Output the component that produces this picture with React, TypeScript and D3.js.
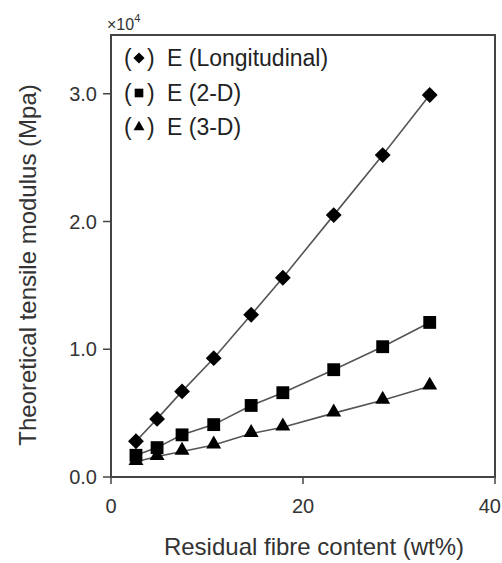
import React from "react";
import * as d3 from "d3";

const fibre = [2.6, 4.8, 7.4, 10.7, 14.6, 17.9, 23.2, 28.3, 33.2];
const eLong = [0.28, 0.455, 0.67, 0.93, 1.27, 1.56, 2.05, 2.52, 2.99];
const e2D = [0.17, 0.23, 0.33, 0.41, 0.56, 0.66, 0.84, 1.02, 1.21];
const e3D = [0.12, 0.16, 0.2, 0.25, 0.34, 0.39, 0.5, 0.6, 0.71];
const xTicks = [0, 20, 40];
const yTicks = [0, 1, 2, 3];
const legendLabels = ["E (Longitudinal)", "E (2-D)", "E (3-D)"];
const symbols = [d3.symbolDiamond2, d3.symbolSquare2, d3.symbolTriangle2];

const W = 502, H = 563;
const L = 111, R = 495, T = 35, B = 477;
const FONT = "'Liberation Sans', Arial, sans-serif";

export default function App() {
  const x = d3.scaleLinear().domain([0, 40]).range([L, R]);
  const y = d3.scaleLinear().domain([0, 3.46]).range([B, T]);
  const series = [eLong, e2D, e3D];
  const markerSize = [160, 210, 160];
  const legendSize = [80, 95, 85];
  const line = d3.line<number>().x((_, i) => x(fibre[i])).y((v) => y(v));
  const legendY = [66, 101, 135];

  return (
    <svg width={W} height={H} style={{ position: "absolute", left: 0, top: 0, background: "#fff" }} fontFamily={FONT}>
      <rect x={0} y={0} width={W} height={H} fill="#fff" />
      {series.map((s, k) => (
        <path key={"l" + k} d={line(s) || ""} fill="none" stroke="#555" strokeWidth={1.6} />
      ))}
      {series.map((s, k) =>
        s.map((v, i) => (
          <path
            key={`m${k}-${i}`}
            d={d3.symbol(symbols[k], markerSize[k])() || ""}
            transform={`translate(${x(fibre[i])},${y(v)})${k === 2 ? " translate(0,-1)" : ""}`}
            fill="#000"
          />
        ))
      )}
      <rect x={L} y={T} width={R - L} height={B - T} fill="none" stroke="#444" strokeWidth={2} />
      {yTicks.map((t) => (
        <g key={"y" + t}>
          <line x1={L - 8} x2={L} y1={y(t)} y2={y(t)} stroke="#444" strokeWidth={1.5} />
          <text x={L - 14} y={y(t)} dy="0.35em" textAnchor="end" fontSize={20} fill="#333">
            {d3.format(".1f")(t)}
          </text>
        </g>
      ))}
      {xTicks.map((t, i) => (
        <g key={"x" + t}>
          <line x1={x(t)} x2={x(t)} y1={B} y2={B + 7} stroke="#444" strokeWidth={1.5} />
          <text
            x={i === xTicks.length - 1 ? W - 1 : x(t)}
            y={513}
            textAnchor={i === xTicks.length - 1 ? "end" : "middle"}
            fontSize={20}
            fill="#333"
          >
            {t}
          </text>
        </g>
      ))}
      <text x={107} y={30} fontSize={16} fill="#333">
        ×10<tspan dy={-8} fontSize={11}>4</tspan>
      </text>
      {legendLabels.map((lab, k) => (
        <g key={"lg" + k}>
          <text x={124} y={legendY[k]} fontSize={23} fill="#222">(</text>
          <path
            d={d3.symbol(symbols[k], legendSize[k])() || ""}
            transform={`translate(${139},${legendY[k] - 8})`}
            fill="#000"
          />
          <text x={147} y={legendY[k]} fontSize={23} fill="#222">)</text>
          <text x={167} y={legendY[k]} fontSize={23} fill="#222">{lab}</text>
        </g>
      ))}
      <text x={314} y={555} textAnchor="middle" fontSize={24} fill="#333">
        Residual fibre content (wt%)
      </text>
      <text
        transform={`translate(36,265) rotate(-90)`}
        textAnchor="middle"
        fontSize={24}
        fill="#333"
      >
        Theoretical tensile modulus (Mpa)
      </text>
    </svg>
  );
}
